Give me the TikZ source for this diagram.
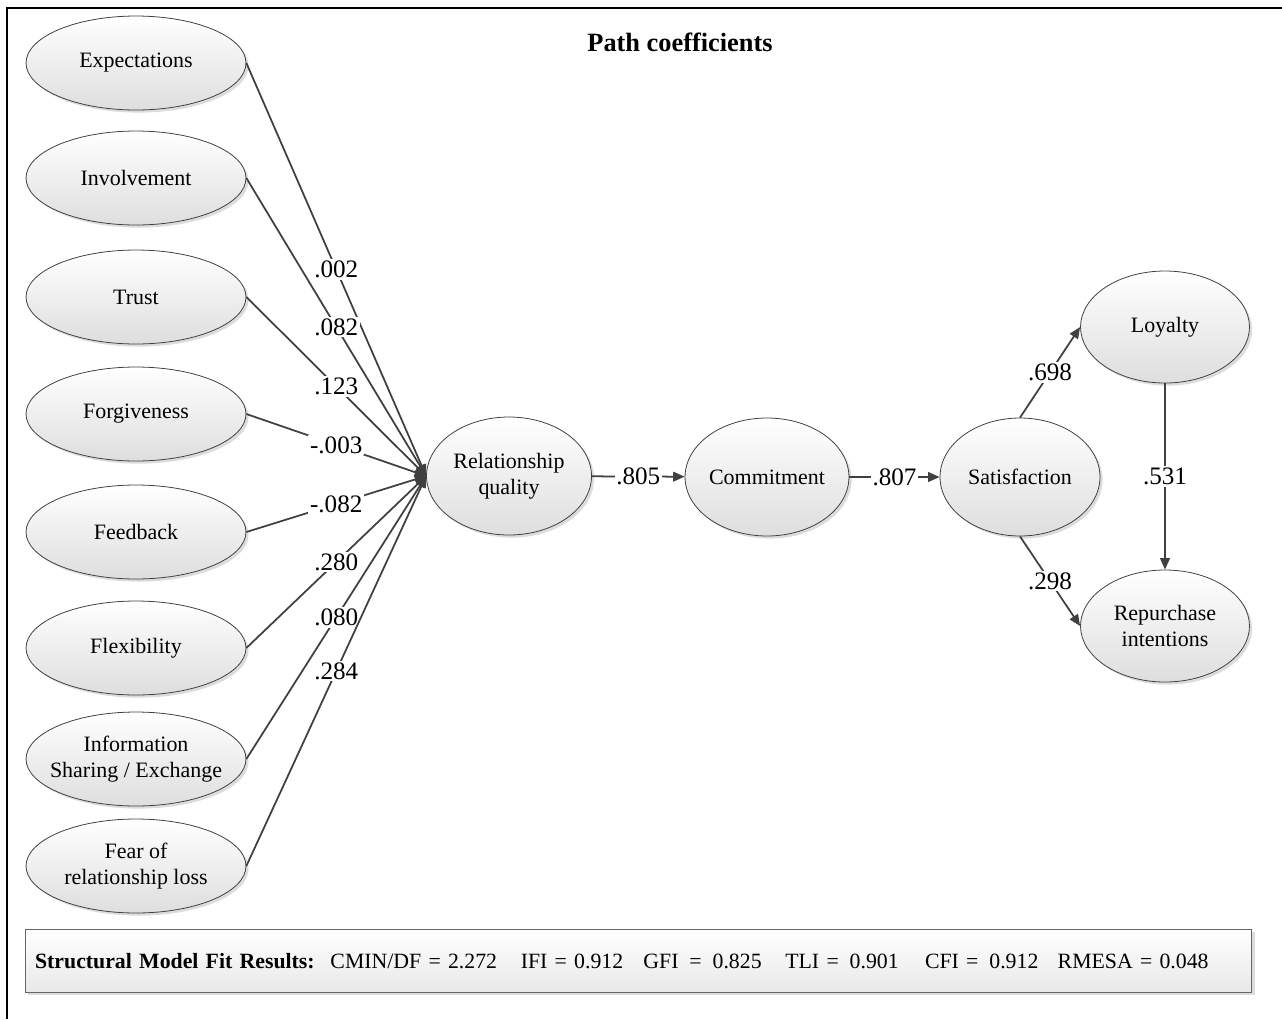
\documentclass[tikz,border=0pt]{standalone}
\usepackage{fontspec}
\setmainfont{Liberation Serif}
\usetikzlibrary{shapes.geometric,arrows.meta,shadows}

\begin{document}
\begin{tikzpicture}[x=0.02cm,y=-0.02cm,
		latent/.style={ellipse,draw=black!75,line width=0.45pt,top color=white,bottom color=black!13,
			drop shadow={shadow xshift=1.5pt,shadow yshift=-1.5pt,fill=black!30,opacity=0.45},
			inner sep=0pt,align=center,font=\fontsize{12.5}{14.5}\selectfont},
		factor/.style={latent,minimum width=4.4cm,minimum height=1.88cm},
		construct/.style={latent,minimum width=3.2cm,minimum height=2.36cm},
		outcome/.style={latent,minimum width=3.38cm,minimum height=2.24cm},
		path/.style={draw=black!75,line width=1pt,-{Triangle[length=6.5pt,width=5.5pt]}},
		coef/.style={fill=white,inner sep=1pt,font=\fontsize{14.3}{16}\selectfont}]
		\useasboundingbox (0,0) rectangle (1282,1019);
		\draw[line width=1.1pt] (7,1019) -- (7,8) -- (1282,8);
		\node[font=\bfseries\fontsize{15}{17}\selectfont] (title) at (680,42) {Path coefficients};
		% antecedents
		\node[factor] (expect) at (136,63) {Expectations};
		\node[factor] (involve) at (136,178) {Involvement};
		\node[factor] (trust) at (136,297) {Trust};
		\node[factor] (forgive) at (136,414) {Forgiveness};
		\node[factor] (feedback) at (136,532) {Feedback};
		\node[factor] (flex) at (136,648) {Flexibility};
		\node[factor,inner sep=-6pt] (info) at (136,759) {Information\\Sharing / Exchange};
		\node[factor] (fear) at (136,866) {Fear of\\relationship loss};
		% chain
		\node[construct,minimum width=3.3cm] (rq) at (509,476) {Relationship\\quality};
		\node[construct] (commit) at (767,477) {Commitment};
		\node[construct] (satis) at (1020,477) {Satisfaction};
		\node[outcome] (loyal) at (1165,327) {Loyalty};
		\node[outcome] (repur) at (1165,626) {Repurchase\\intentions};
		\draw[path] (expect.east) -- node[coef] {.002} (rq.west);
		\draw[path] (involve.east) -- node[coef] {.082} (rq.west);
		\draw[path] (trust.east) -- node[coef] {.123} (rq.west);
		\draw[path] (forgive.east) -- node[coef] {-.003} (rq.west);
		\draw[path] (feedback.east) -- node[coef] {-.082} (rq.west);
		\draw[path] (flex.east) -- node[coef] {.280} (rq.west);
		\draw[path] (info.east) -- node[coef] {.080} (rq.west);
		\draw[path] (fear.east) -- node[coef] {.284} (rq.west);
		\draw[path] (rq) -- node[coef] {.805} (commit);
		\draw[path] (commit) -- node[coef] {.807} (satis);
		\draw[path] (satis.north) -- node[coef] {.698} (loyal.west);
		\draw[path] (satis.south) -- node[coef] {.298} (repur.west);
		\draw[path] (loyal) -- node[coef] {.531} (repur);
		% fit indices
		\node[rectangle,draw=black!60,line width=0.45pt,top color=white,bottom color=black!9,
			drop shadow={shadow xshift=1.5pt,shadow yshift=-1.5pt,fill=black!30,opacity=0.45},
			minimum height=1.26cm,text width=24.14cm,inner xsep=0.2cm,align=left,
			font=\fontsize{12.4}{14.5}\selectfont] (fit) at (638.5,961)
			{\makebox[\linewidth][l]{\textbf{Structural Model Fit Results:}\hspace{9pt}CMIN/DF = 2.272\hspace{13.5pt}IFI = 0.912\hspace{11.5pt}GFI \,= \,0.825\hspace{13.5pt}TLI = \,0.901\hspace{15pt}CFI = \,0.912\hspace{11pt}RMESA = 0.048}};
	\end{tikzpicture}
\end{document}
